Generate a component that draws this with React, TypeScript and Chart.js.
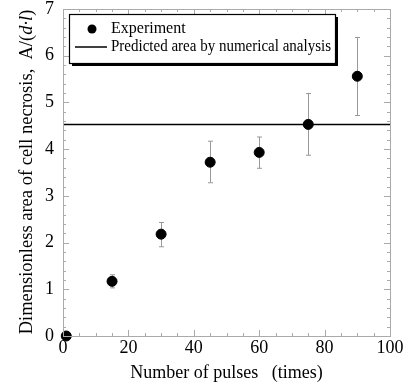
import React, { useEffect, useRef } from "react";
import { Chart, registerables } from "chart.js";
Chart.register(...registerables);

const pulses = [1, 15, 30, 45, 60, 75, 90];
const area = [0, 1.17, 2.18, 3.72, 3.93, 4.53, 5.56];
const errLow = [null, 1.03, 1.91, 3.28, 3.59, 3.87, 4.72];
const errHigh = [null, 1.31, 2.43, 4.17, 4.26, 5.19, 6.39];
const predictedX = [0, 100];
const predictedArea = [4.53, 4.53];
const experimentLabel = "Experiment";
const predictedLabel = "Predicted area by numerical analysis";
const xTitle = "Number of pulses   (times)";
const yTitleParts = [
  { t: "Dimensionless area of cell necrosis,  A/(", italic: false },
  { t: "d·l", italic: true },
  { t: ")", italic: false },
];

const SERIF = "'Liberation Serif', 'DejaVu Serif', serif";
const AXIS = "#aaaaaa";

const decorPlugin = {
  id: "decor",
  beforeDatasetsDraw(chart: any) {
    const { ctx } = chart;
    const xs = chart.scales.x;
    const ys = chart.scales.y;
    ctx.save();
    ctx.strokeStyle = "#999999";
    ctx.lineWidth = 1;
    for (let i = 0; i < pulses.length; i++) {
      const lo = errLow[i];
      const hi = errHigh[i];
      if (lo == null || hi == null) continue;
      const px = Math.round(xs.getPixelForValue(pulses[i])) + 0.5;
      const y1 = ys.getPixelForValue(lo);
      const y2 = ys.getPixelForValue(hi);
      ctx.beginPath();
      ctx.moveTo(px, y1);
      ctx.lineTo(px, y2);
      ctx.moveTo(px - 2.5, y1);
      ctx.lineTo(px + 2.5, y1);
      ctx.moveTo(px - 2.5, y2);
      ctx.lineTo(px + 2.5, y2);
      ctx.stroke();
    }
    ctx.restore();
  },
  afterDraw(chart: any) {
    const { ctx, chartArea: a } = chart;
    const xs = chart.scales.x;
    const ys = chart.scales.y;
    ctx.save();
    // frame
    ctx.strokeStyle = AXIS;
    ctx.lineWidth = 1;
    ctx.strokeRect(Math.round(a.left) + 0.5, Math.round(a.top) + 0.5, Math.round(a.right - a.left), Math.round(a.bottom - a.top));
    // inward ticks
    ctx.beginPath();
    for (let v = 0; v <= 100; v += 5) {
      const px = Math.round(xs.getPixelForValue(v)) + 0.5;
      const len = v % 20 === 0 ? 6 : 3;
      ctx.moveTo(px, a.bottom);
      ctx.lineTo(px, a.bottom - len);
      ctx.moveTo(px, a.top);
      ctx.lineTo(px, a.top + len);
    }
    for (let k = 0; k <= 35; k++) {
      const v = k * 0.2;
      const py = Math.round(ys.getPixelForValue(v)) + 0.5;
      const len = k % 5 === 0 ? 6 : 3;
      ctx.moveTo(a.left, py);
      ctx.lineTo(a.left + len, py);
      ctx.moveTo(a.right, py);
      ctx.lineTo(a.right - len, py);
    }
    ctx.stroke();

    // x title
    ctx.fillStyle = "#000";
    ctx.font = `18px ${SERIF}`;
    ctx.textAlign = "center";
    ctx.textBaseline = "middle";
    ctx.fillText(xTitle, (a.left + a.right) / 2, 373);

    // y title
    ctx.save();
    ctx.translate(27, 172);
    ctx.rotate(-Math.PI / 2);
    ctx.textAlign = "left";
    let total = 0;
    const widths: number[] = [];
    const fs = 18.5;
    for (const p of yTitleParts) {
      ctx.font = `${p.italic ? "italic " : ""}${fs}px ${SERIF}`;
      const w = ctx.measureText(p.t).width;
      widths.push(w);
      total += w;
    }
    let cx = -total / 2;
    yTitleParts.forEach((p, i) => {
      ctx.font = `${p.italic ? "italic " : ""}${fs}px ${SERIF}`;
      ctx.fillText(p.t, cx, 0);
      cx += widths[i];
    });
    ctx.restore();

    // legend
    const lx = 69, ly = 14, lw = 266, lh = 49;
    ctx.fillStyle = "#000";
    ctx.fillRect(lx + 3, ly + 3, lw, lh);
    ctx.fillStyle = "#fff";
    ctx.fillRect(lx, ly, lw, lh);
    ctx.strokeStyle = "#000";
    ctx.lineWidth = 1.2;
    ctx.strokeRect(lx + 0.5, ly + 0.5, lw, lh);
    ctx.fillStyle = "#000";
    ctx.beginPath();
    ctx.arc(92, 29, 4.5, 0, Math.PI * 2);
    ctx.fill();
    ctx.lineWidth = 1.5;
    ctx.beginPath();
    ctx.moveTo(75, 47);
    ctx.lineTo(107, 47);
    ctx.stroke();
    ctx.font = `16px ${SERIF}`;
    ctx.textAlign = "left";
    ctx.textBaseline = "middle";
    ctx.fillText(experimentLabel, 111, 29);
    ctx.fillText(predictedLabel, 111, 47, 220);
    ctx.restore();
  },
};

export default function App() {
  const ref = useRef<HTMLCanvasElement | null>(null);
  useEffect(() => {
    document.body.style.margin = "0";
    const chart = new Chart(ref.current!, {
      type: "scatter",
      data: {
        datasets: [
          {
            label: experimentLabel,
            data: pulses.map((x, i) => ({ x, y: area[i] })),
            backgroundColor: "#000",
            borderColor: "#000",
            pointRadius: 5,
            pointHoverRadius: 5,
            clip: false as any,
          },
          {
            label: predictedLabel,
            type: "line" as any,
            data: predictedX.map((x, i) => ({ x, y: predictedArea[i] })),
            borderColor: "#000",
            borderWidth: 1.5,
            pointRadius: 0,
            showLine: true,
            fill: false,
          },
        ],
      },
      options: {
        animation: false,
        responsive: false,
        maintainAspectRatio: false,
        layout: { padding: { left: 0, right: 19, top: 9, bottom: 0 } },
        plugins: { legend: { display: false }, tooltip: { enabled: false } },
        scales: {
          x: {
            type: "linear",
            min: 0,
            max: 100,
            ticks: { stepSize: 20, color: "#000", font: { family: SERIF, size: 18 }, padding: 1, maxRotation: 0 },
            grid: { display: false, drawTicks: false },
            border: { color: AXIS },
            afterFit: (s: any) => { s.height = 52; s.paddingLeft = 0; s.paddingRight = 0; },
          },
          y: {
            type: "linear",
            min: 0,
            max: 7,
            ticks: { stepSize: 1, color: "#000", font: { family: SERIF, size: 18 }, padding: 9 },
            grid: { display: false, drawTicks: false },
            border: { color: AXIS },
            afterFit: (s: any) => { s.width = 63; s.paddingTop = 0; s.paddingBottom = 0; },
          },
        },
      },
      plugins: [decorPlugin],
    });
    return () => chart.destroy();
  }, []);
  return (
    <div style={{ width: 409, height: 388 }}>
      <canvas ref={ref} width={409} height={388} style={{ display: "block" }} />
    </div>
  );
}
